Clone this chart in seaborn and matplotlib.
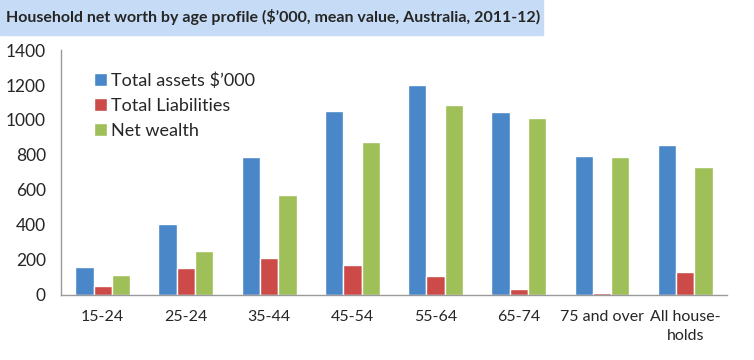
import numpy as np
import pandas as pd
import matplotlib
matplotlib.use("Agg")
import matplotlib.pyplot as plt
import seaborn as sns
from matplotlib.patches import Rectangle

ages = ["15-24", "25-24", "35-44", "45-54", "55-64", "65-74", "75 and over", "All house-\nholds"]
assets = [162, 404, 789, 1050, 1200, 1044, 792, 857]
liabilities = [48, 156, 213, 173, 110, 32, 10, 130]
net_wealth = [114, 248, 571, 874, 1088, 1010, 787, 730]
series = ["Total assets $\u2019000", "Total Liabilities", "Net wealth"]
colors = ["#4a87c8", "#cc4a47", "#9fbf58"]

df = pd.DataFrame({
    "age": ages * 3,
    "value": assets + liabilities + net_wealth,
    "series": [series[0]] * 8 + [series[1]] * 8 + [series[2]] * 8,
})

sns.set_style("white")
plt.rcParams["font.family"] = ["Lato", "DejaVu Sans"]

fig = plt.figure(figsize=(7.54, 3.6), dpi=100)
ax = fig.add_axes([0.081, 0.181, 0.883, 0.68])

sns.barplot(data=df, x="age", y="value", hue="series", palette=colors,
            width=0.66, saturation=1, ax=ax, legend=True)

ax.set_ylim(0, 1400)
ax.set_yticks(range(0, 1401, 200))
ax.set_xlim(-0.5, 7.5)
ax.set_xlabel("")
ax.set_ylabel("")
for s in ["top", "right"]:
    ax.spines[s].set_visible(False)
for s in ["left", "bottom"]:
    ax.spines[s].set_color("#9a9a9a")
    ax.spines[s].set_linewidth(1)
ax.set_xticks(np.arange(-0.5, 8, 1), minor=True)
ax.tick_params(axis="x", which="major", length=0, labelsize=11.5, pad=11)
ax.tick_params(axis="x", which="minor", length=6, color="#9a9a9a", direction="out")
ax.tick_params(axis="y", length=5, color="#9a9a9a", direction="out", labelsize=12.5, pad=6)
for lab in ax.get_xticklabels():
    lab.set_linespacing(1.4)

leg = ax.legend(loc="upper left", bbox_to_anchor=(0.025, 0.975), frameon=False,
                fontsize=13, handlelength=0.7, handleheight=0.7,
                handletextpad=0.25, labelspacing=0.5)

fig.patches.append(Rectangle((0, 1 - 35 / 360), 543 / 754, 35 / 360,
                             transform=fig.transFigure, color="#c6dcf6", zorder=0))
fig.text(0.008, 1 - 17 / 360, "Household net worth by age profile ($\u2019000, mean value, Australia, 2011-12)",
         fontsize=11.5, fontweight="bold", va="center", ha="left")

fig.savefig("out.png", dpi=100)
